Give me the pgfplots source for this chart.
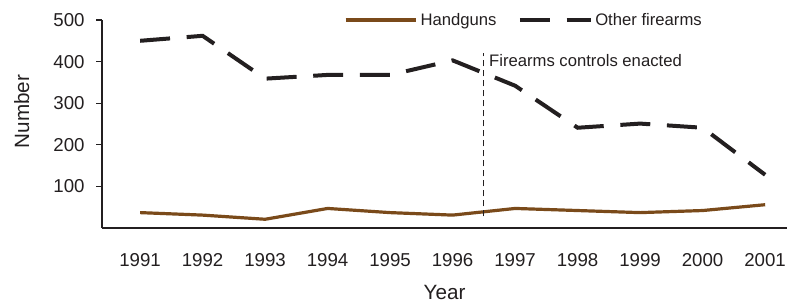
\documentclass[border=0pt]{standalone}
\usepackage{pgfplots}
\pgfplotsset{compat=1.18}
\usepackage{fontspec}
\setmainfont{Liberation Sans}
\definecolor{hg}{RGB}{122,74,26}
\definecolor{dk}{RGB}{35,31,32}
\begin{document}
\begin{tikzpicture}
\useasboundingbox (-76.5pt,-57pt) rectangle (513.75pt,171pt);
\begin{axis}[
  scale only axis, width=513.75pt, height=156pt,
  xmin=1990.39, xmax=2001.35, ymin=0, ymax=500,
  axis x line=bottom, axis y line=left,
  axis line style={line width=1.6pt, color=dk, -},
  xtick={1991,...,2001}, xticklabels={1991,1992,1993,1994,1995,1996,1997,1998,1999,2000,2001},
  x tick style={draw=none},
  ytick={100,200,300,400,500},
  y tick style={line width=0.8pt, color=dk},
  tick align=outside, major tick length=4.5pt,
  /pgf/number format/assume math mode=true,
  ticklabel style={font=\fontsize{14}{16}\selectfont, text=dk},
  xticklabel style={yshift=-11pt},
  yticklabel style={xshift=-5pt},
  xlabel={Year}, ylabel={Number},
  xlabel style={at={(axis description cs:0.5,-0.312)}, anchor=center, font=\fontsize{15.5}{18}\selectfont, text=dk},
  ylabel style={at={(axis description cs:-0.117,0.56)}, anchor=center, font=\fontsize{15.5}{18}\selectfont, text=dk},
  legend columns=2,
  legend style={draw=none, fill=none, at={(0.353,1.0)}, anchor=west,
     font=\fontsize{12.5}{14}\selectfont, text=dk,
     /tikz/every even column/.append style={column sep=14pt}, inner sep=0pt},
  legend image code/.code={\draw[#1] (0pt,0pt) -- (53pt,0pt);},
  clip=false,
]
\addplot[color=hg, line width=2.4pt] coordinates {
 (1991,37) (1992,31) (1993,21) (1994,47) (1995,37) (1996,31) (1997,47) (1998,42) (1999,37) (2000,42) (2001,56)};
\addlegendentry{Handguns}
\addplot[color=dk, line width=3pt, dash pattern=on 22.5pt off 12.5pt] coordinates {
 (1991,450) (1992,462) (1993,359) (1994,368) (1995,368) (1996,403) (1997,342) (1998,241) (1999,251) (2000,241) (2001,128)};
\addlegendentry{Other firearms}
\addplot[color=dk, line width=0.7pt, dash pattern=on 4.5pt off 3pt, forget plot] coordinates {(1996.5,28) (1996.5,421)};
\node[anchor=west, font=\fontsize{12.5}{14}\selectfont, text=dk, inner sep=0pt] at (axis cs:1996.58,403) {Firearms controls enacted};
\end{axis}
\end{tikzpicture}
\end{document}
